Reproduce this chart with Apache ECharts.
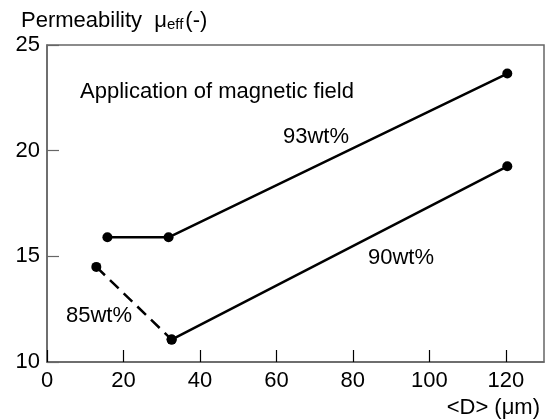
<!DOCTYPE html>
<html>
<head>
<meta charset="utf-8">
<script src="https://cdn.jsdelivr.net/npm/echarts@6/dist/echarts.min.js"></script>
<style>
  html, body { margin: 0; padding: 0; background: #fff; }
  #chart { width: 554px; height: 419px; }
</style>
</head>
<body>
<div id="chart"></div>
<script>
// values
const x93 = [15.8, 31.8, 120.4];
const y93 = [15.9, 15.9, 23.65];
const x90 = [32.6, 120.4];
const y90 = [11.06, 19.26];
const x85 = [12.9, 32.6];
const y85 = [14.5, 11.06];

const xTicks = [0, 20, 40, 60, 80, 100, 120];
const yTicks = [10, 15, 20, 25];

const pairs = (xs, ys) => xs.map((x, i) => [x, ys[i]]);

const font = "'Liberation Sans', Arial, sans-serif";
const axisGray = '#666';

const chart = echarts.init(document.getElementById('chart'));

const lineSeries = (name, xs, ys, dashed) => ({
  name: name,
  type: 'line',
  data: pairs(xs, ys),
  symbol: 'circle',
  symbolSize: 10,
  itemStyle: { color: '#000' },
  lineStyle: { color: '#000', width: 2.5, type: dashed ? [12, 7] : 'solid' },
  z: 3
});

const option = {
  animation: false,
  grid: { left: 47, right: 10, top: 45, bottom: 57, show: true, borderColor: axisGray, borderWidth: 1.5 },
  xAxis: {
    type: 'value',
    min: 0,
    max: 130,
    interval: 20,
    axisLine: { show: true, lineStyle: { color: axisGray, width: 1.5 } },
    axisTick: { show: true, inside: true, length: 12, lineStyle: { color: '#000', width: 1.2 } },
    splitLine: { show: false },
    axisLabel: {
      showMaxLabel: false,
      margin: 8,
      color: '#000',
      fontFamily: font,
      fontSize: 22,
      formatter: v => (xTicks.indexOf(v) >= 0 ? String(v) : '')
    }
  },
  yAxis: {
    type: 'value',
    min: 10,
    max: 25,
    interval: 5,
    axisLine: { show: true, lineStyle: { color: axisGray, width: 1.5 } },
    axisTick: { show: true, inside: true, length: 12, lineStyle: { color: axisGray, width: 1.2 } },
    splitLine: { show: false },
    axisLabel: {
      margin: 7,
      color: '#000',
      fontFamily: font,
      fontSize: 22,
      formatter: v => (yTicks.indexOf(v) >= 0 ? String(v) : '')
    }
  },
  series: [
    lineSeries('93wt%', x93, y93, false),
    lineSeries('90wt%', x90, y90, false),
    lineSeries('85wt%', x85, y85, true)
  ],
  graphic: [
    {
      type: 'text', left: 21, top: 10,
      style: {
        text: '{a|Permeability  μ}{s|eff}{a|(-)}',
        rich: {
          a: { fontFamily: font, fontSize: 22, fill: '#000' },
          s: { fontFamily: font, fontSize: 15, fill: '#000', padding: [8, 2, 0, 0] }
        }
      }
    },
    { type: 'text', left: 80, top: 81, style: { text: 'Application of magnetic field', fontFamily: font, fontSize: 22, fill: '#000' } },
    { type: 'text', left: 283, top: 126, style: { text: '93wt%', fontFamily: font, fontSize: 22, fill: '#000' } },
    { type: 'text', left: 368, top: 247, style: { text: '90wt%', fontFamily: font, fontSize: 22, fill: '#000' } },
    { type: 'text', left: 66, top: 305, style: { text: '85wt%', fontFamily: font, fontSize: 22, fill: '#000' } },
    { type: 'text', right: 14, top: 397, style: { text: '<D> (μm)', fontFamily: font, fontSize: 22, fill: '#000' } }
  ]
};

chart.setOption(option);
</script>
</body>
</html>
